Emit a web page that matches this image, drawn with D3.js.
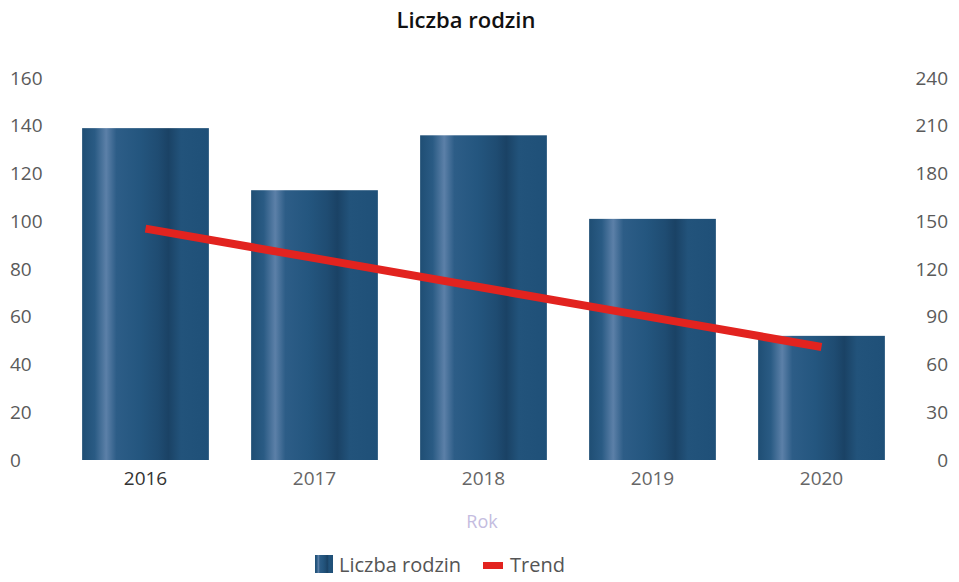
<!DOCTYPE html>
<html><head><meta charset="utf-8">
<script src="https://cdn.jsdelivr.net/npm/d3@7/dist/d3.min.js"></script>
<style>body{margin:0;background:#fff;}text{font-family:"Open Sans","DejaVu Sans",sans-serif;}</style>
</head><body>
<svg id="c" width="959" height="582"></svg>
<script>
const categories = ["2016","2017","2018","2019","2020"];
const values = [139, 113, 136, 101, 52];
const trendValues = [145.4, 126.8, 108.2, 89.6, 71.0];
const leftTicks = [0,20,40,60,80,100,120,140,160];
const rightTicks = [0,30,60,90,120,150,180,210,240];

const svg = d3.select("#c");
const x = d3.scaleBand().domain(categories).range([61, 906]).paddingInner(0.25).paddingOuter(0.125);
const yL = d3.scaleLinear().domain([0,160]).range([460, 78]);
const yR = d3.scaleLinear().domain([0,240]).range([460, 78]);

const defs = svg.append("defs");
const g = defs.append("linearGradient").attr("id","cyl").attr("x1","0").attr("x2","1").attr("y1","0").attr("y2","0");
[[0,"#1f4e74"],[0.1,"#2a5b84"],[0.19,"#5c80a8"],[0.27,"#2d5d87"],[0.45,"#24567f"],[0.6,"#1f4c72"],[0.68,"#1a4265"],[0.78,"#22537b"],[1,"#1f5078"]]
  .forEach(([o,c])=>g.append("stop").attr("offset",o).attr("stop-color",c));

svg.append("text").attr("x",466).attr("y",28).attr("text-anchor","middle")
  .attr("font-size",22).attr("fill","#111").attr("font-weight",600).text("Liczba rodzin");

svg.append("g").selectAll("rect").data(values).join("rect")
  .attr("x",(d,i)=>x(categories[i])).attr("width",x.bandwidth())
  .attr("y",d=>yL(d)).attr("height",d=>yL(0)-yL(d)).attr("fill","url(#cyl)");

const line = d3.line().x((d,i)=>x(categories[i])+x.bandwidth()/2).y(d=>yR(d));
svg.append("path").datum(trendValues).attr("d",line).attr("fill","none")
  .attr("stroke","#e2231f").attr("stroke-width",8);

const axL = d3.axisLeft(yL).tickValues(leftTicks).tickSize(0).tickPadding(0);
const gL = svg.append("g").attr("transform","translate(10,0)").call(axL);
gL.select(".domain").remove();
gL.selectAll("text").attr("text-anchor","start").attr("font-size",19).attr("fill","#5a5a5a").attr("font-family","'Open Sans',sans-serif");

const axR = d3.axisRight(yR).tickValues(rightTicks).tickSize(0).tickPadding(0);
const gR = svg.append("g").attr("transform","translate(948,0)").call(axR);
gR.select(".domain").remove();
gR.selectAll("text").attr("text-anchor","end").attr("font-size",19).attr("fill","#5a5a5a").attr("font-family","'Open Sans',sans-serif");

const axB = d3.axisBottom(x).tickSize(0).tickPadding(9);
const gB = svg.append("g").attr("transform","translate(0,463)").call(axB);
gB.select(".domain").remove();
gB.selectAll("text").attr("font-size",19).attr("fill",(d,i)=>i===0?"#333":"#666").attr("font-family","'Open Sans',sans-serif");

svg.append("text").attr("x",482).attr("y",528).attr("text-anchor","middle")
  .attr("font-size",18).attr("fill","#c4bce0").text("Rok");

const lg = svg.append("g");
lg.append("rect").attr("x",315).attr("y",555).attr("width",18).attr("height",18).attr("fill","url(#cyl)");
lg.append("text").attr("x",339).attr("y",572).attr("font-size",20).attr("fill","#555").text("Liczba rodzin");
lg.append("rect").attr("x",483).attr("y",562).attr("width",20).attr("height",7).attr("fill","#e2231f");
lg.append("text").attr("x",510).attr("y",572).attr("font-size",20).attr("fill","#555").text("Trend");
</script>
</body></html>
